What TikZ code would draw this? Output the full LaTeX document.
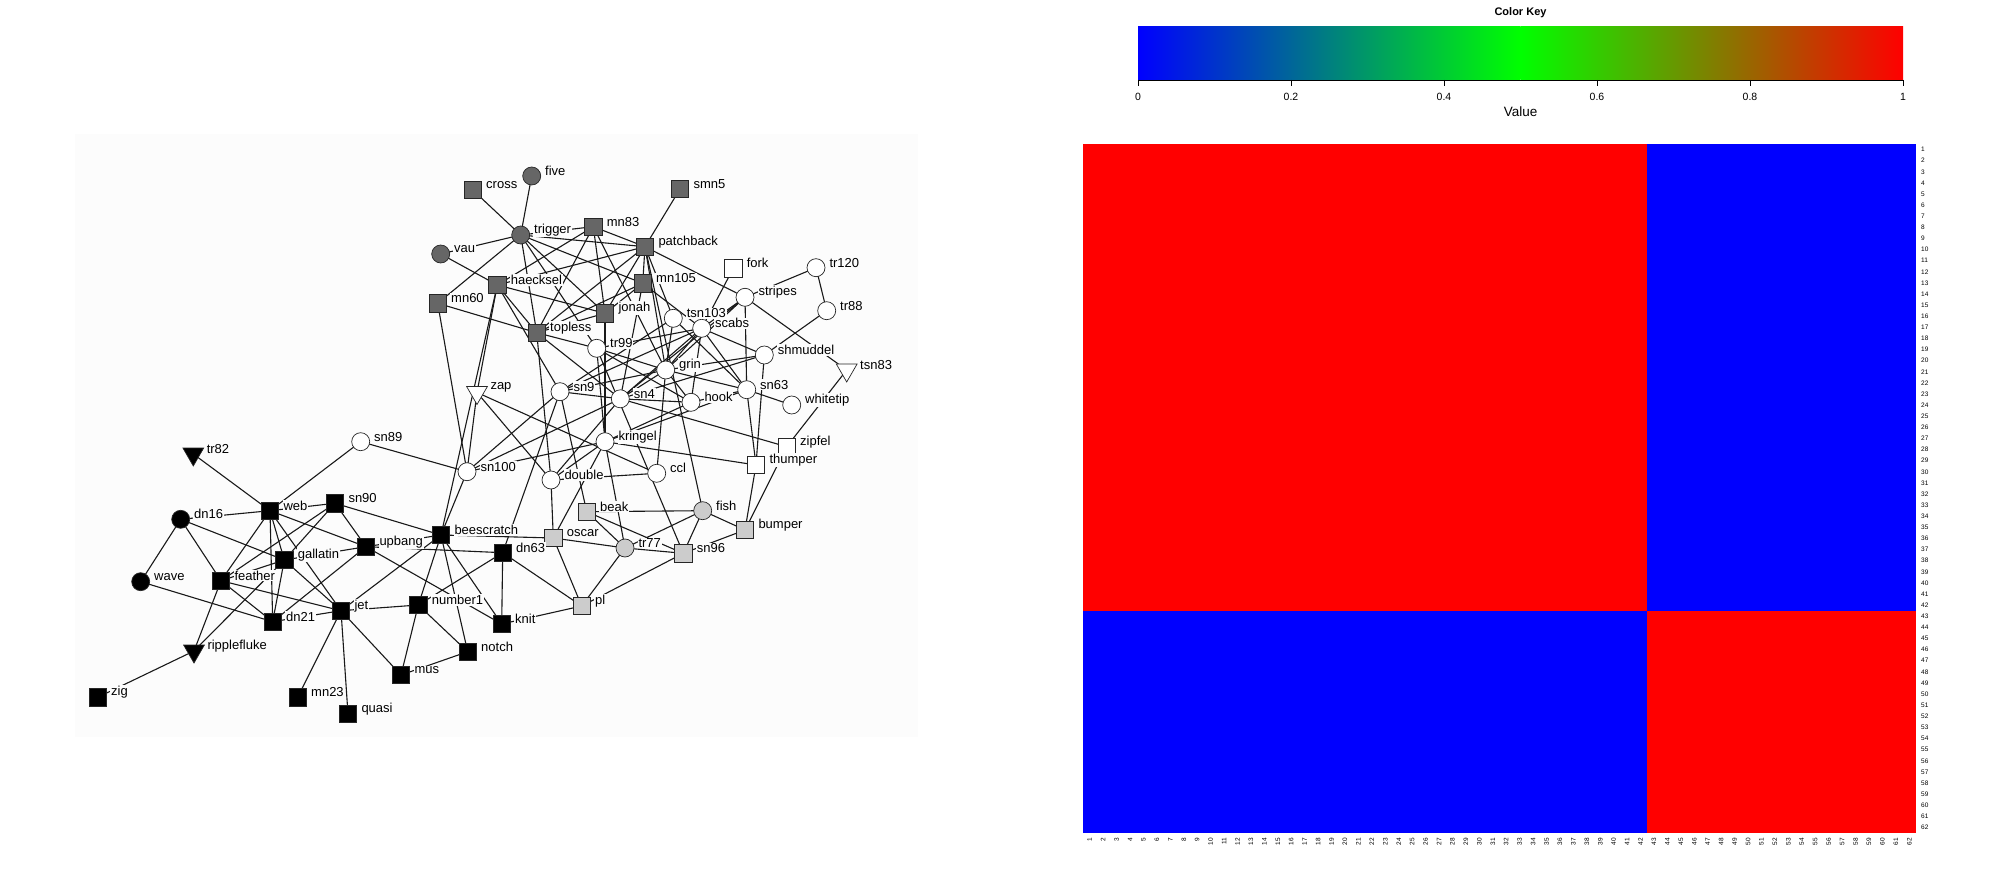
\documentclass[tikz,border=0pt]{standalone}
\usepackage{fontspec}
\setmainfont{Liberation Sans}
\usetikzlibrary{shapes.geometric}
\definecolor{dg}{HTML}{666666}
\definecolor{lg}{HTML}{CCCCCC}
\definecolor{pbg}{HTML}{FCFCFC}
\definecolor{hred}{HTML}{FF0000}
\definecolor{hblue}{HTML}{0000FF}
\definecolor{kgreen}{HTML}{00FF00}
\pgfdeclarelayer{back}
\pgfdeclarelayer{edges}
\pgfsetlayers{back,edges,main}
\tikzset{
  edge/.style={draw=black!90, line width=1.1pt},
  nd/.style={draw=black!85, line width=0.7pt, inner sep=0pt},
  sq/.style={nd, rectangle, minimum size=17.5pt, fill=#1},
  ci/.style={nd, circle, minimum size=18pt, fill=#1},
  tri/.style={nd, regular polygon, regular polygon sides=3, shape border rotate=180, minimum size=24pt, fill=#1},
  lbl/.style={font=\fontsize{13}{13}\selectfont, fill=pbg, inner sep=0.8pt, anchor=west},
  rowlab/.style={font=\fontsize{6.5}{6.5}\selectfont, anchor=west, inner sep=0pt},
  collab/.style={font=\fontsize{6.5}{6.5}\selectfont, anchor=east, rotate=90, inner sep=0pt},
  ticklab/.style={font=\fontsize{10.5}{10.5}\selectfont, inner sep=0pt}
}
\begin{document}
\begin{tikzpicture}[x=1pt,y=-1pt]
\useasboundingbox (0,0) rectangle (2000,874);
\begin{pgfonlayer}{back}
\fill[white] (0,0) rectangle (2000,874);
\fill[pbg] (75,134) rectangle (918,737);
\end{pgfonlayer}

% ---- nodes: dark grey community
\node[sq=dg] (cross) at (472.7,190) {};
\node[ci=dg] (five) at (531.7,176) {};
\node[sq=dg] (smn5) at (680,189) {};
\node[ci=dg] (trigger) at (520.7,235) {};
\node[sq=dg] (mn83) at (593.3,226.7) {};
\node[sq=dg] (patchback) at (645,246.7) {};
\node[ci=dg] (vau) at (440.7,254) {};
\node[sq=dg] (haecksel) at (497.3,285) {};
\node[sq=dg] (mn105) at (642.7,283.3) {};
\node[sq=dg] (mn60) at (437.7,303.3) {};
\node[sq=dg] (jonah) at (605,313.3) {};
\node[sq=dg] (topless) at (536.7,332.7) {};
% ---- white community
\node[sq=white] (fork) at (733.3,268.3) {};
\node[ci=white] (tr120) at (816,267.7) {};
\node[ci=white] (stripes) at (745,297.3) {};
\node[ci=white] (tr88) at (826.7,310.7) {};
\node[ci=white] (tsn103) at (673.3,318.3) {};
\node[ci=white] (scabs) at (701.7,328.3) {};
\node[ci=white] (tr99) at (596.7,348.3) {};
\node[ci=white] (shmuddel) at (764.3,355) {};
\node[tri=white] (tsn83) at (846.7,370) {};
\node[ci=white] (grin) at (665.7,370) {};
\node[tri=white] (zap) at (477,392.5) {};
\node[ci=white] (sn9) at (560,391.7) {};
\node[ci=white] (sn4) at (620.3,398.8) {};
\node[ci=white] (hook) at (691,402.3) {};
\node[ci=white] (sn63) at (746.7,389.7) {};
\node[ci=white] (whitetip) at (791.7,405) {};
\node[ci=white] (kringel) at (605,441.7) {};
\node[ci=white] (ccl) at (656.7,473.3) {};
\node[ci=white] (double) at (551,480) {};
\node[sq=white] (zipfel) at (786.7,446.7) {};
\node[sq=white] (thumper) at (756,465) {};
\node[ci=white] (sn100) at (467,471.7) {};
\node[ci=white] (sn89) at (360.7,441.7) {};
% ---- light grey community
\node[sq=lg] (beak) at (586.7,511.7) {};
\node[ci=lg] (fish) at (702.7,510.7) {};
\node[sq=lg] (bumper) at (745,530) {};
\node[sq=lg] (oscar) at (553.3,538) {};
\node[ci=lg] (tr77) at (625,548) {};
\node[sq=lg] (sn96) at (683.3,553.3) {};
\node[sq=lg] (pl) at (581.7,606) {};
% ---- black community
\node[tri=black] (tr82) at (193.3,454) {};
\node[sq=black] (web) at (270,510.7) {};
\node[sq=black] (sn90) at (335,503.3) {};
\node[ci=black] (dn16) at (180.7,519.3) {};
\node[sq=black] (beescratch) at (441,535) {};
\node[sq=black] (upbang) at (366,546.7) {};
\node[sq=black] (gallatin) at (284.3,560) {};
\node[sq=black] (dn63) at (502.7,552.7) {};
\node[ci=black] (wave) at (140.7,581.7) {};
\node[sq=black] (feather) at (221,580.7) {};
\node[sq=black] (number1) at (418.3,605) {};
\node[sq=black] (jet) at (341,610.7) {};
\node[sq=black] (dn21) at (272.7,621.7) {};
\node[sq=black] (knit) at (501.7,624) {};
\node[tri=black] (ripplefluke) at (194,651) {};
\node[sq=black] (notch) at (467.7,651.7) {};
\node[sq=black] (mus) at (401,675) {};
\node[sq=black] (mn23) at (297.7,697.3) {};
\node[sq=black] (quasi) at (348,714) {};
\node[sq=black] (zig) at (97.7,697.3) {};

% ---- edges
\begin{pgfonlayer}{edges}
\foreach \a/\b in {double/ccl,feather/dn16,feather/dn21,fish/beak,fish/bumper,gallatin/dn16,gallatin/dn21,gallatin/feather,grin/ccl,haecksel/beescratch,hook/grin,jet/beescratch,jet/dn21,jet/feather,jet/gallatin,jonah/haecksel,knit/beescratch,knit/dn63,kringel/double,kringel/hook,kringel/jonah,mn105/jonah,mn23/jet,mn83/grin,mn83/haecksel,mn83/jonah,mus/jet,notch/beescratch,notch/mus,number1/beescratch,number1/dn63,number1/jet,number1/mus,number1/notch,oscar/beescratch,oscar/double,oscar/kringel,patchback/fish,patchback/grin,patchback/haecksel,patchback/jonah,patchback/mn105,patchback/mn83,pl/dn63,pl/knit,pl/oscar,quasi/jet,ripplefluke/feather,ripplefluke/gallatin,scabs/fork,scabs/grin,scabs/hook,scabs/mn105,shmuddel/grin,shmuddel/scabs,smn5/patchback,sn100/beescratch,sn100/kringel,sn100/mn60,sn4/double,sn4/grin,sn4/hook,sn4/mn105,sn4/shmuddel,sn4/sn100,sn4/scabs,sn63/grin,sn63/hook,sn63/kringel,sn63/scabs,sn89/sn100,sn9/beak,sn9/dn63,sn9/grin,sn9/haecksel,sn9/scabs,sn9/sn100,sn9/sn4,sn90/beescratch,sn90/feather,sn90/gallatin,sn96/beak,sn96/bumper,sn96/fish,sn96/pl,stripes/grin,stripes/patchback,stripes/scabs,stripes/sn4,stripes/sn63,thumper/bumper,thumper/kringel,thumper/shmuddel,thumper/sn63,topless/double,topless/haecksel,topless/jonah,topless/mn105,topless/mn60,topless/mn83,topless/patchback,topless/sn4,tr120/stripes,tr77/beak,tr77/fish,tr77/kringel,tr77/oscar,tr77/pl,tr77/sn96,tr88/shmuddel,tr88/tr120,tr99/grin,tr99/hook,tr99/kringel,tr99/scabs,tr99/sn96,tr99/topless,trigger/cross,trigger/five,trigger/jonah,trigger/mn105,trigger/mn60,trigger/mn83,trigger/patchback,trigger/topless,trigger/tr99,tsn103/grin,tsn103/patchback,tsn103/sn63,tsn103/sn9,tsn83/stripes,upbang/beescratch,upbang/dn21,upbang/dn63,upbang/gallatin,upbang/knit,upbang/sn90,vau/haecksel,vau/trigger,wave/dn16,wave/dn21,web/dn16,web/dn21,web/feather,web/gallatin,web/jet,web/sn89,web/sn90,web/tr82,web/upbang,whitetip/sn63,zap/ccl,zap/haecksel,zap/double,zap/sn100,zig/ripplefluke,zipfel/bumper,zipfel/sn4,zipfel/tsn83}
  \draw[edge] (\a.center) -- (\b.center);
\end{pgfonlayer}

% ---- labels
\foreach \n in {cross,five,smn5,trigger,mn83,patchback,vau,haecksel,mn105,mn60,jonah,topless,fork,tr120,stripes,tr88,tsn103,scabs,tr99,shmuddel,tsn83,grin,zap,sn9,sn4,hook,sn63,whitetip,kringel,ccl,double,zipfel,thumper,sn100,sn89,beak,fish,bumper,oscar,tr77,sn96,pl,tr82,web,sn90,dn16,beescratch,upbang,gallatin,dn63,wave,feather,number1,jet,dn21,knit,ripplefluke,notch,mus,mn23,quasi,zig}
  \node[lbl] (\n-lab) at ([shift={(12.5,-5)}]\n.center) {\n};

% ---- colour key
\node[font=\bfseries\fontsize{11}{11}\selectfont] (keytitle) at (1520.5,13) {Color Key};
\shade[left color=hblue, right color=kgreen] (1138,27) rectangle (1520.5,80);
\shade[left color=kgreen, right color=hred] (1520.5,27) rectangle (1903,80);
\draw[line width=0.9pt] (1138,80) -- (1903,80);
\foreach \v/\t in {0/0,0.2/0.2,0.4/0.4,0.6/0.6,0.8/0.8,1/1} {
  \draw[line width=0.9pt] ({1138+765*\v},80) -- ({1138+765*\v},86);
  \node[ticklab] (tick\t) at ({1138+765*\v},97) {\t};
}
\node[font=\fontsize{13.5}{13.5}\selectfont] (valuelab) at (1520.5,112) {Value};

% ---- heatmap
\fill[hred] (1083,144) rectangle (1647.3,610.7);
\fill[hblue] (1647.3,144) rectangle (1916,610.7);
\fill[hblue] (1083,610.7) rectangle (1647.3,833);
\fill[hred] (1647.3,610.7) rectangle (1916,833);
\foreach \i in {1,...,62}
  \node[rowlab] (row\i) at (1921,{144+(\i-0.5)*11.113}) {\i};
\foreach \j in {1,...,62}
  \node[collab] (col\j) at ({1083+(\j-0.5)*13.435},838) {\j};
\end{tikzpicture}
\end{document}
